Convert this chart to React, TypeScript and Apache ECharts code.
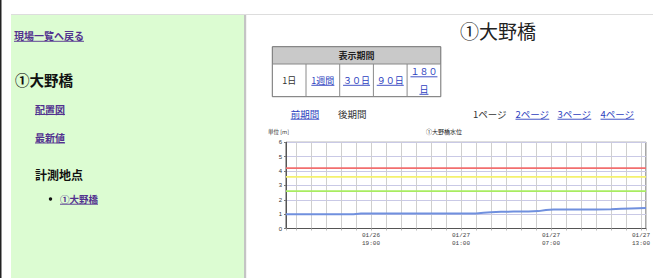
import React, { useEffect, useRef } from 'react';
import * as echarts from 'echarts';

// ---------- data ----------
const pageTitle = '①大野橋';
const backLink = '現場一覧へ戻る';
const sideTitle = '①大野橋';
const sideLinks = ['配置図', '最新値'];
const sideSection = '計測地点';
const sitePoints = ['①大野橋'];
const periodHeader = '表示期間';
const periodOptions = ['1日', '1週間', '３０日', '９０日', '１８０\n日'];
const periodLinked = [false, true, true, true, true];
const navPrev = '前期間';
const navNext = '後期間';
const pageLinks = ['1ページ', '2ページ', '3ページ', '4ページ'];
const pageLinked = [false, true, true, true];
const chartTitle = '①大野橋水位';
const unitLabel = '単位 [m]';

const rangeStart = '01-26 13:20';
const rangeEnd = '01-27 13:20';
const xLabelHours = [19, 1, 7, 13];

const levelTimes = [
  '01-26 13:20', '01-26 14:00', '01-26 15:00', '01-26 16:00', '01-26 17:00', '01-26 17:50',
  '01-26 18:20', '01-26 19:00', '01-26 20:00', '01-26 21:00', '01-26 22:00', '01-26 23:00',
  '01-27 00:00', '01-27 01:00', '01-27 02:00', '01-27 02:30', '01-27 03:00', '01-27 03:40',
  '01-27 04:30', '01-27 05:30', '01-27 06:10', '01-27 06:40', '01-27 07:10', '01-27 08:00',
  '01-27 09:00', '01-27 10:00', '01-27 11:00', '01-27 11:40', '01-27 12:20', '01-27 13:20',
];
const levelValues = [
  1.0, 1.0, 1.0, 1.0, 1.0, 1.0,
  1.04, 1.04, 1.04, 1.04, 1.04, 1.04,
  1.04, 1.04, 1.05, 1.09, 1.13, 1.16,
  1.18, 1.19, 1.21, 1.29, 1.33, 1.33,
  1.33, 1.33, 1.34, 1.37, 1.4, 1.43,
];
const thresholdValues = [4.2, 3.6, 2.6];
const thresholdColors = ['#f26e6e', '#f4f16e', '#a8ec60'];

// ---------- helpers ----------
const FONT = '"Noto Sans CJK JP", "Noto Sans", sans-serif';

const parseTime = (s: string) => {
  const [md, hm] = s.split(' ');
  const [mo, d] = md.split('-').map(Number);
  const [h, mi] = hm.split(':').map(Number);
  return new Date(2025, mo - 1, d, h, mi).getTime();
};

let measureCtx: CanvasRenderingContext2D | null = null;
const measure = (t: string, size: number, weight: string) => {
  if (!measureCtx) measureCtx = document.createElement('canvas').getContext('2d');
  if (!measureCtx) return t.length * size;
  measureCtx.font = `${weight} ${size}px ${FONT}`;
  return measureCtx.measureText(t).width;
};

const textEl = (
  text: string, x: number, y: number, size: number, color: string,
  weight = 'normal', align = 'left', underline = false,
) => {
  const els: any[] = [
    {
      type: 'text', x, y, silent: true,
      style: {
        text, fill: color, fontSize: size, fontFamily: FONT, fontWeight: weight,
        align, verticalAlign: 'middle',
      },
    },
  ];
  if (underline) {
    const w = measure(text, size, weight);
    const x0 = align === 'center' ? x - w / 2 : x;
    els.push({
      type: 'line', silent: true,
      shape: { x1: x0, y1: y + size * 0.55, x2: x0 + w, y2: y + size * 0.55 },
      style: { stroke: color, lineWidth: 0.9 },
    });
  }
  return els;
};

const buildGraphic = () => {
  const g: any[] = [];
  // page frame
  g.push({ type: 'rect', shape: { x: 0, y: 0, width: 1.5, height: 278 }, style: { fill: '#222' }, silent: true });
  g.push({ type: 'rect', shape: { x: 11, y: 15, width: 233, height: 263 }, style: { fill: '#dcfcd2' }, silent: true });
  g.push({ type: 'rect', shape: { x: 244, y: 15, width: 2.2, height: 263 }, style: { fill: '#c4c4c4' }, silent: true });
  g.push({ type: 'line', shape: { x1: 11, y1: 14.5, x2: 653, y2: 14.5 }, style: { stroke: '#dddddd', lineWidth: 1 }, silent: true });

  // sidebar
  const visited = '#52318f';
  g.push(...textEl(backLink, 14, 35.8, 10, visited, 'bold', 'left', true));
  g.push(...textEl(sideTitle, 15, 79, 14.5, '#111', 'bold'));
  const sideY = [109, 137.5];
  sideLinks.forEach((t, i) => g.push(...textEl(t, 35, sideY[i], 10, visited, 'bold', 'left', true)));
  g.push(...textEl(sideSection, 35, 174.5, 12, '#111', 'bold'));
  sitePoints.forEach((t, i) => {
    const y = 199 + i * 20;
    g.push({ type: 'circle', shape: { cx: 50.5, cy: y, r: 1.7 }, style: { fill: '#111' }, silent: true });
    g.push(...textEl(t, 60, y, 9.5, visited, 'bold', 'left', true));
  });

  // main title
  g.push(...textEl(pageTitle, 498, 30.5, 19, '#222', 'normal', 'center'));

  // period table
  const tL = 272.3, tT = 46.7, cellW = 33.7, headH = 17.3, rowH = 32.7;
  const tW = cellW * periodOptions.length;
  g.push({ type: 'rect', shape: { x: tL, y: tT, width: tW, height: headH }, style: { fill: '#c9c9c9' }, silent: true });
  g.push({ type: 'rect', shape: { x: tL, y: tT, width: tW, height: headH + rowH }, style: { fill: 'none', stroke: '#6e6e6e', lineWidth: 1 }, silent: true });
  g.push({ type: 'line', shape: { x1: tL, y1: tT + headH, x2: tL + tW, y2: tT + headH }, style: { stroke: '#888', lineWidth: 1 }, silent: true });
  g.push(...textEl(periodHeader, tL + tW / 2, tT + headH / 2, 9, '#222', 'bold', 'center'));
  const link = '#2e3fc0';
  periodOptions.forEach((opt, i) => {
    const cx = tL + cellW * (i + 0.5);
    if (i > 0) {
      g.push({ type: 'line', shape: { x1: tL + cellW * i, y1: tT + headH, x2: tL + cellW * i, y2: tT + headH + rowH }, style: { stroke: '#8a8a8a', lineWidth: 1 }, silent: true });
    }
    const lines = opt.split('\n');
    const cy = tT + headH + rowH / 2;
    lines.forEach((ln, j) => {
      const y = lines.length === 1 ? cy : cy - 8.5 + j * 17.5;
      g.push(...textEl(ln, cx, y, 9, periodLinked[i] ? link : '#333', 'normal', 'center', periodLinked[i]));
    });
  });

  // navigation
  g.push(...textEl(navPrev, 290.7, 114, 9.5, link, 'normal', 'left', true));
  g.push(...textEl(navNext, 338, 114, 9.5, '#333', 'normal'));
  const pageX = [473, 515.5, 557.5, 600.5];
  pageLinks.forEach((p, i) => g.push(...textEl(p, pageX[i], 114, 9.5, pageLinked[i] ? link : '#333', 'normal', 'left', pageLinked[i])));

  // chart captions
  g.push(...textEl(unitLabel, 268, 131.5, 5.5, '#333', 'normal'));
  g.push(...textEl(chartTitle, 444, 131.5, 6, '#222', 'normal', 'center'));
  return g;
};

export default function App() {
  const ref = useRef<HTMLDivElement>(null);
  useEffect(() => {
    if (!ref.current) return;
    const chart = echarts.init(ref.current, undefined, { renderer: 'svg' });
    const data = levelTimes.map((t, i) => [parseTime(t), levelValues[i]]);
    const pad = (n: number) => String(n).padStart(2, '0');
    const thresholdSeries = thresholdValues.map((v, i) => ({
      type: 'line',
      data: [[parseTime(rangeStart), v], [parseTime(rangeEnd), v]],
      showSymbol: false,
      symbol: 'none',
      silent: true,
      lineStyle: { color: thresholdColors[i], width: 1.8 },
      itemStyle: { color: thresholdColors[i] },
      z: 3,
    }));
    chart.setOption({
      animation: false,
      backgroundColor: '#ffffff',
      textStyle: { fontFamily: FONT },
      grid: { left: 286, top: 142.3, right: 6, bottom: 49.5, show: true, borderColor: '#555', borderWidth: 1, backgroundColor: '#fff' },
      xAxis: {
        type: 'time',
        min: parseTime(rangeStart),
        max: parseTime(rangeEnd),
        minInterval: 3600000,
        maxInterval: 3600000,
        splitNumber: 24,
        axisLine: { show: true, lineStyle: { color: '#555', width: 1 } },
        axisTick: { show: true, length: 2, lineStyle: { color: '#bbb' } },
        splitLine: { show: true, lineStyle: { color: '#cfcfcf', width: 1 } },
        axisLabel: {
          show: true,
          interval: 0,
          hideOverlap: false,
          showMinLabel: true,
          showMaxLabel: true,
          fontSize: 6,
          lineHeight: 8.3,
          margin: 3,
          color: '#444',
          fontFamily: '"Liberation Mono", monospace',
          formatter: (v: number) => {
            const d = new Date(v);
            if (d.getMinutes() === 0 && xLabelHours.includes(d.getHours())) {
              return `${pad(d.getMonth() + 1)}/${pad(d.getDate())}\n${pad(d.getHours())}:00`;
            }
            return '';
          },
        },
      },
      yAxis: {
        type: 'value',
        min: 0,
        max: 6,
        interval: 1,
        axisLine: { show: true, lineStyle: { color: '#555', width: 1 } },
        axisTick: { show: true, length: 2, lineStyle: { color: '#777' } },
        splitLine: { show: true, lineStyle: { color: '#c9c9e6', width: 1 } },
        axisLabel: { fontSize: 6, color: '#333', margin: 4, fontFamily: '"Liberation Sans", sans-serif' },
      },
      series: [
        ...thresholdSeries,
        {
          type: 'line',
          data,
          showSymbol: false,
          symbol: 'none',
          lineStyle: { color: '#7090de', width: 2 },
          itemStyle: { color: '#7090de' },
          z: 5,
        },
      ],
      graphic: buildGraphic(),
    });
    return () => chart.dispose();
  }, []);
  return (
    <div
      ref={ref}
      style={{ position: 'fixed', left: 0, top: 0, width: 653, height: 278, background: '#fff' }}
    />
  );
}
